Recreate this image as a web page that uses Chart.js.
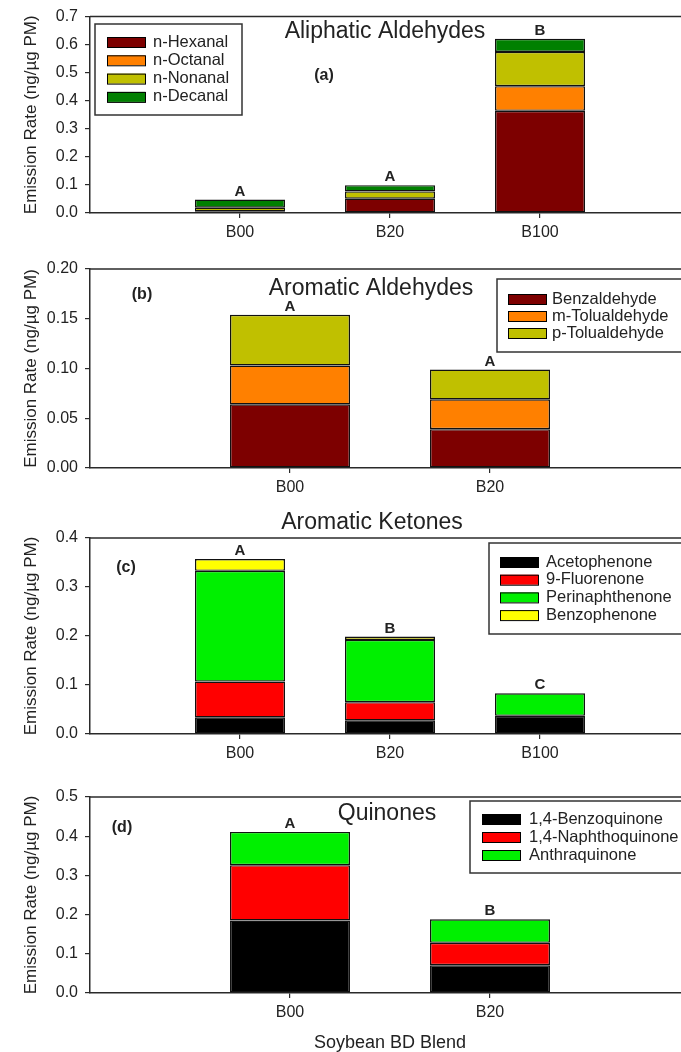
<!DOCTYPE html>
<html>
<head>
<meta charset="utf-8">
<title>Emission Rate by Soybean BD Blend</title>
<script src="https://cdn.jsdelivr.net/npm/chart.js@4.4.1/dist/chart.umd.min.js"></script>
<style>
  html, body { margin: 0; padding: 0; background: #fff; overflow: hidden; }
  #page { position: relative; width: 681px; height: 1052px; overflow: hidden; }
  #page canvas { position: absolute; left: 0; }
</style>
</head>
<body>
<div id="page">
  <canvas id="chart-a" width="700" height="250" style="top:0px"></canvas>
  <canvas id="chart-b" width="700" height="255" style="top:250px"></canvas>
  <canvas id="chart-c" width="700" height="266" style="top:505px"></canvas>
  <canvas id="chart-d" width="700" height="281" style="top:771px"></canvas>
</div>
<script>
// blends on the x axis
const blendsAll = ['B00', 'B20', 'B100'];
const blendsTwo = ['B00', 'B20'];

// (a) aliphatic aldehydes, ng/ug PM
const aliphaticNames = ['n-Hexanal', 'n-Octanal', 'n-Nonanal', 'n-Decanal'];
const hexanal = [0.006, 0.051, 0.364];
const octanal = [null, null, 0.088];
const nonanal = [0.013, 0.026, 0.122];
const decanal = [0.029, 0.022, 0.047];
const aliphaticGroups = ['A', 'A', 'B'];
const aliphaticTicks = [0, 0.1, 0.2, 0.3, 0.4, 0.5, 0.6, 0.7];

// (b) aromatic aldehydes
const aromaticAldNames = ['Benzaldehyde', 'm-Tolualdehyde', 'p-Tolualdehyde'];
const benzaldehyde = [0.064, 0.039];
const mTolualdehyde = [0.039, 0.030];
const pTolualdehyde = [0.051, 0.030];
const aromaticAldGroups = ['A', 'A'];
const aromaticAldTicks = [0, 0.05, 0.10, 0.15, 0.20];

// (c) aromatic ketones
const ketoneNames = ['Acetophenone', '9-Fluorenone', 'Perinaphthenone', 'Benzophenone'];
const acetophenone = [0.034, 0.028, 0.037];
const fluorenone = [0.073, 0.037, null];
const perinaphthenone = [0.226, 0.127, 0.046];
const benzophenone = [0.024, 0.007, null];
const ketoneGroups = ['A', 'B', 'C'];
const ketoneTicks = [0, 0.1, 0.2, 0.3, 0.4];

// (d) quinones
const quinoneNames = ['1,4-Benzoquinone', '1,4-Naphthoquinone', 'Anthraquinone'];
const benzoquinone = [0.185, 0.071];
const naphthoquinone = [0.141, 0.057];
const anthraquinone = [0.085, 0.060];
const quinoneGroups = ['A', 'B'];
const quinoneTicks = [0, 0.1, 0.2, 0.3, 0.4, 0.5];

const yTitle = 'Emission Rate (ng/\u00b5g PM)';
const xTitle = 'Soybean BD Blend';

const FONT = '"Liberation Sans", Arial, sans-serif';
const INK = '#222';
const AXIS = '#2a2a2a';

Chart.defaults.font.family = FONT;
Chart.defaults.color = INK;

// title, panel tag, boxed legend, top frame line and group letters
const panelDecor = {
  id: 'panelDecor',
  afterDraw(chart, args, o) {
    const ctx = chart.ctx;
    const area = chart.chartArea;
    const xs = chart.scales.x, ys = chart.scales.y;
    ctx.save();

    // top edge of the frame
    ctx.strokeStyle = AXIS;
    ctx.lineWidth = 1.5;
    ctx.beginPath();
    ctx.moveTo(area.left, area.top);
    ctx.lineTo(area.right, area.top);
    ctx.stroke();

    ctx.fillStyle = INK;
    ctx.textAlign = 'center';
    ctx.textBaseline = 'middle';
    ctx.font = '23px ' + FONT;
    ctx.fillText(o.title, o.titleX, o.titleY);

    ctx.font = 'bold 16px ' + FONT;
    ctx.fillText(o.tag, o.tagX, o.tagY);

    // letters over each stack
    ctx.font = 'bold 15px ' + FONT;
    o.groups.forEach((g, j) => {
      const total = chart.data.datasets.reduce((s, ds) => s + (ds.data[j].y || 0), 0);
      ctx.fillText(g, xs.getPixelForValue(j + 1), ys.getPixelForValue(total) - 8);
    });

    // legend box
    const lg = o.legend;
    ctx.strokeStyle = '#333';
    ctx.lineWidth = 1.5;
    ctx.strokeRect(lg.x, lg.y, lg.w, lg.h);
    ctx.font = '16.5px ' + FONT;
    ctx.textAlign = 'left';
    ctx.lineWidth = 1;
    chart.data.datasets.forEach((ds, i) => {
      const y = lg.row0 + i * lg.rowGap;
      ctx.fillStyle = ds.backgroundColor;
      ctx.fillRect(lg.swatchX, y - 5, 38, 10);
      ctx.strokeStyle = '#000';
      ctx.strokeRect(lg.swatchX + 0.5, y - 5 + 0.5, 38, 10);
      ctx.fillStyle = INK;
      ctx.fillText(ds.label, lg.textX, y);
    });
    ctx.restore();
  }
};

function buildPanel(id, p) {
  const datasets = p.series.map((values, i) => ({
    label: p.names[i],
    data: values.map((v, j) => ({ x: j + 1, y: v })),
    backgroundColor: p.colors[i],
    borderColor: '#111',
    borderWidth: 1.4,
    borderSkipped: false,
    categoryPercentage: 0.6,
    barPercentage: 1
  }));

  return new Chart(document.getElementById(id).getContext('2d'), {
    type: 'bar',
    data: { datasets },
    options: {
      responsive: false,
      animation: false,
      layout: { padding: { top: p.top, right: 10, left: 0, bottom: 0 } },
      plugins: {
        legend: { display: false },
        tooltip: { enabled: false },
        panelDecor: p.decor
      },
      scales: {
        x: {
          type: 'linear',
          stacked: true,
          offset: false,
          min: 0,
          max: p.categories.length + 1,
          afterFit: s => { s.height = p.xHeight; },
          afterBuildTicks: s => { s.ticks = p.categories.map((c, i) => ({ value: i + 1 })); },
          ticks: {
            autoSkip: false,
            maxRotation: 0,
            padding: 5,
            font: { size: 16 },
            color: INK,
            callback: v => p.categories[v - 1] || ''
          },
          grid: { offset: false, drawOnChartArea: false, tickLength: 5, color: AXIS, lineWidth: 1.2 },
          border: { display: true, color: AXIS, width: 1.5 },
          title: {
            display: !!p.xTitle,
            text: p.xTitle || '',
            font: { size: 18, lineHeight: 1 },
            color: INK,
            padding: { top: 0, bottom: 0 }
          }
        },
        y: {
          stacked: true,
          min: p.ticks[0],
          max: p.ticks[p.ticks.length - 1],
          afterFit: s => { s.width = 90; },
          afterBuildTicks: s => { s.ticks = p.ticks.map(v => ({ value: v })); },
          ticks: {
            padding: 7,
            font: { size: 16 },
            color: INK,
            callback: v => v.toFixed(p.digits)
          },
          grid: { drawOnChartArea: false, tickLength: 5, color: AXIS, lineWidth: 1.2 },
          border: { display: true, color: AXIS, width: 1.5 },
          title: {
            display: true,
            text: yTitle,
            font: { size: 17 },
            color: INK,
            padding: { top: 21, bottom: 0 }
          }
        }
      }
    },
    plugins: [panelDecor]
  });
}

const DARK_RED = '#7d0000', ORANGE = '#ff8000', OLIVE = '#c0c000', DARK_GREEN = '#008000';
const BLACK = '#000000', RED = '#ff0000', GREEN = '#00f000', YELLOW = '#ffff00';

buildPanel('chart-a', {
  categories: blendsAll,
  names: aliphaticNames,
  series: [hexanal, octanal, nonanal, decanal],
  colors: [DARK_RED, ORANGE, OLIVE, DARK_GREEN],
  ticks: aliphaticTicks, digits: 1,
  top: 16, xHeight: 37,
  decor: {
    title: 'Aliphatic Aldehydes', titleX: 385, titleY: 32,
    tag: '(a)', tagX: 324, tagY: 76,
    groups: aliphaticGroups,
    legend: { x: 95, y: 24, w: 147, h: 91, row0: 42, rowGap: 18.3, swatchX: 107, textX: 153 }
  }
});

buildPanel('chart-b', {
  categories: blendsTwo,
  names: aromaticAldNames,
  series: [benzaldehyde, mTolualdehyde, pTolualdehyde],
  colors: [DARK_RED, ORANGE, OLIVE],
  ticks: aromaticAldTicks, digits: 2,
  top: 19, xHeight: 37,
  decor: {
    title: 'Aromatic Aldehydes', titleX: 371, titleY: 39,
    tag: '(b)', tagX: 142, tagY: 45,
    groups: aromaticAldGroups,
    legend: { x: 497, y: 29, w: 210, h: 73, row0: 49, rowGap: 17, swatchX: 508, textX: 552 }
  }
});

buildPanel('chart-c', {
  categories: blendsAll,
  names: ketoneNames,
  series: [acetophenone, fluorenone, perinaphthenone, benzophenone],
  colors: [BLACK, RED, GREEN, YELLOW],
  ticks: ketoneTicks, digits: 1,
  top: 33, xHeight: 37,
  decor: {
    title: 'Aromatic Ketones', titleX: 372, titleY: 18,
    tag: '(c)', tagX: 126, tagY: 63,
    groups: ketoneGroups,
    legend: { x: 489, y: 38, w: 220, h: 91, row0: 57, rowGap: 17.7, swatchX: 500, textX: 546 }
  }
});

buildPanel('chart-d', {
  categories: blendsTwo,
  names: quinoneNames,
  series: [benzoquinone, naphthoquinone, anthraquinone],
  colors: [BLACK, RED, GREEN],
  ticks: quinoneTicks, digits: 1,
  top: 26, xHeight: 59, xTitle: xTitle,
  decor: {
    title: 'Quinones', titleX: 387, titleY: 43,
    tag: '(d)', tagX: 122, tagY: 57,
    groups: quinoneGroups,
    legend: { x: 470, y: 30, w: 240, h: 72, row0: 48, rowGap: 18, swatchX: 482, textX: 529 }
  }
});
</script>
</body>
</html>
